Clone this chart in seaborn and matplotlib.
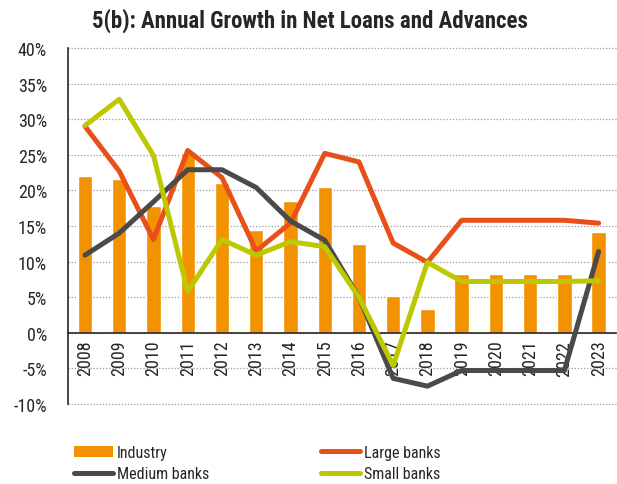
import numpy as np
import pandas as pd
import matplotlib
matplotlib.use("Agg")
import matplotlib.pyplot as plt
import seaborn as sns
from matplotlib.patches import Patch
from matplotlib.lines import Line2D

years = [str(y) for y in range(2008, 2024)]
industry = [22.0, 21.6, 17.8, 25.3, 21.0, 14.4, 18.5, 20.5, 12.4, 5.1, 3.3, 8.2, 8.2, 8.2, 8.2, 14.1]
large_banks = [29.0, 22.7, 13.1, 25.6, 21.8, 11.5, 15.4, 25.2, 24.0, 12.6, 9.9, 15.8, 15.8, 15.8, 15.8, 15.4]
medium_banks = [10.9, 14.0, 18.4, 22.9, 22.9, 20.4, 15.7, 13.0, 5.0, -6.4, -7.5, -5.3, -5.3, -5.3, -5.3, 11.4]
small_banks = [29.1, 32.8, 24.9, 5.8, 13.1, 10.9, 12.8, 12.1, 5.0, -4.6, 9.9, 7.2, 7.2, 7.2, 7.2, 7.3]

c_ind = "#F39200"
c_large = "#E8501A"
c_med = "#4A4A4A"
c_small = "#BDC800"

sns.set_style("white")
plt.rcParams["font.family"] = ["Roboto Condensed", "Liberation Sans", "DejaVu Sans"]

bars = pd.DataFrame({"year": years, "value": industry})
lines = pd.DataFrame({
    "year": years * 3,
    "value": large_banks + medium_banks + small_banks,
    "series": ["Large banks"] * 16 + ["Medium banks"] * 16 + ["Small banks"] * 16,
})

fig = plt.figure(figsize=(6.17, 4.85), dpi=100)
ax = fig.add_axes([0.110, 0.165, 0.888, 0.734])

sns.barplot(data=bars, x="year", y="value", color=c_ind, width=0.42,
            saturation=1, ax=ax, zorder=2)
sns.pointplot(data=lines, x="year", y="value", hue="series",
              palette=[c_large, c_med, c_small], markers="", linewidth=3.6,
              errorbar=None, ax=ax, legend=False, zorder=3)

ax.set_ylim(-10, 40)
ax.set_xlim(-0.5, 15.5)
ax.set_yticks(np.arange(-10, 41, 5))
ax.set_yticklabels([f"{v}%" for v in range(-10, 41, 5)], fontsize=13)
ax.yaxis.grid(True, linestyle=(0, (1, 1.5)), color="#9a9a9a", linewidth=0.9)
for gl in ax.get_ygridlines():
    gl.set_clip_on(False)
ax.set_axisbelow(True)

ax.spines["bottom"].set_position(("data", 0))
for s in ["top", "right"]:
    ax.spines[s].set_visible(False)
ax.spines["left"].set_linewidth(1.2)
ax.spines["bottom"].set_linewidth(1.2)
ax.set_xticks(range(16))
ax.set_xticklabels(years, rotation=90, fontsize=13)
ax.set_xticks(np.arange(-0.5, 16, 1), minor=True)
ax.tick_params(axis="x", which="major", length=0, pad=5)
ax.tick_params(axis="x", which="minor", length=5, width=1.2, direction="out")
ax.tick_params(axis="y", length=5, width=1.2, direction="out", pad=10)
ax.set_xlabel("")
ax.set_ylabel("")

fig.text(310 / 617, 0.958, "5(b): Annual Growth in Net Loans and Advances",
         ha="center", va="center", fontsize=16.5, fontweight="bold")

leg_kw = dict(loc="upper left", ncol=1, frameon=False, fontsize=11.5,
              handlelength=2.45, handletextpad=0.25, labelspacing=0.4,
              borderaxespad=0, borderpad=0)
fig.legend(
    [Patch(facecolor=c_ind, edgecolor="none"),
     Line2D([], [], color=c_med, linewidth=3.6, solid_capstyle="round")],
    ["Industry", "Medium banks"], bbox_to_anchor=(74 / 617, 1 - 446 / 485), **leg_kw)
fig.legend(
    [Line2D([], [], color=c_large, linewidth=3.6, solid_capstyle="round"),
     Line2D([], [], color=c_small, linewidth=3.6)],
    ["Large banks", "Small banks"], bbox_to_anchor=(321 / 617, 1 - 446 / 485), **leg_kw)

fig.savefig("out.png", dpi=100)
